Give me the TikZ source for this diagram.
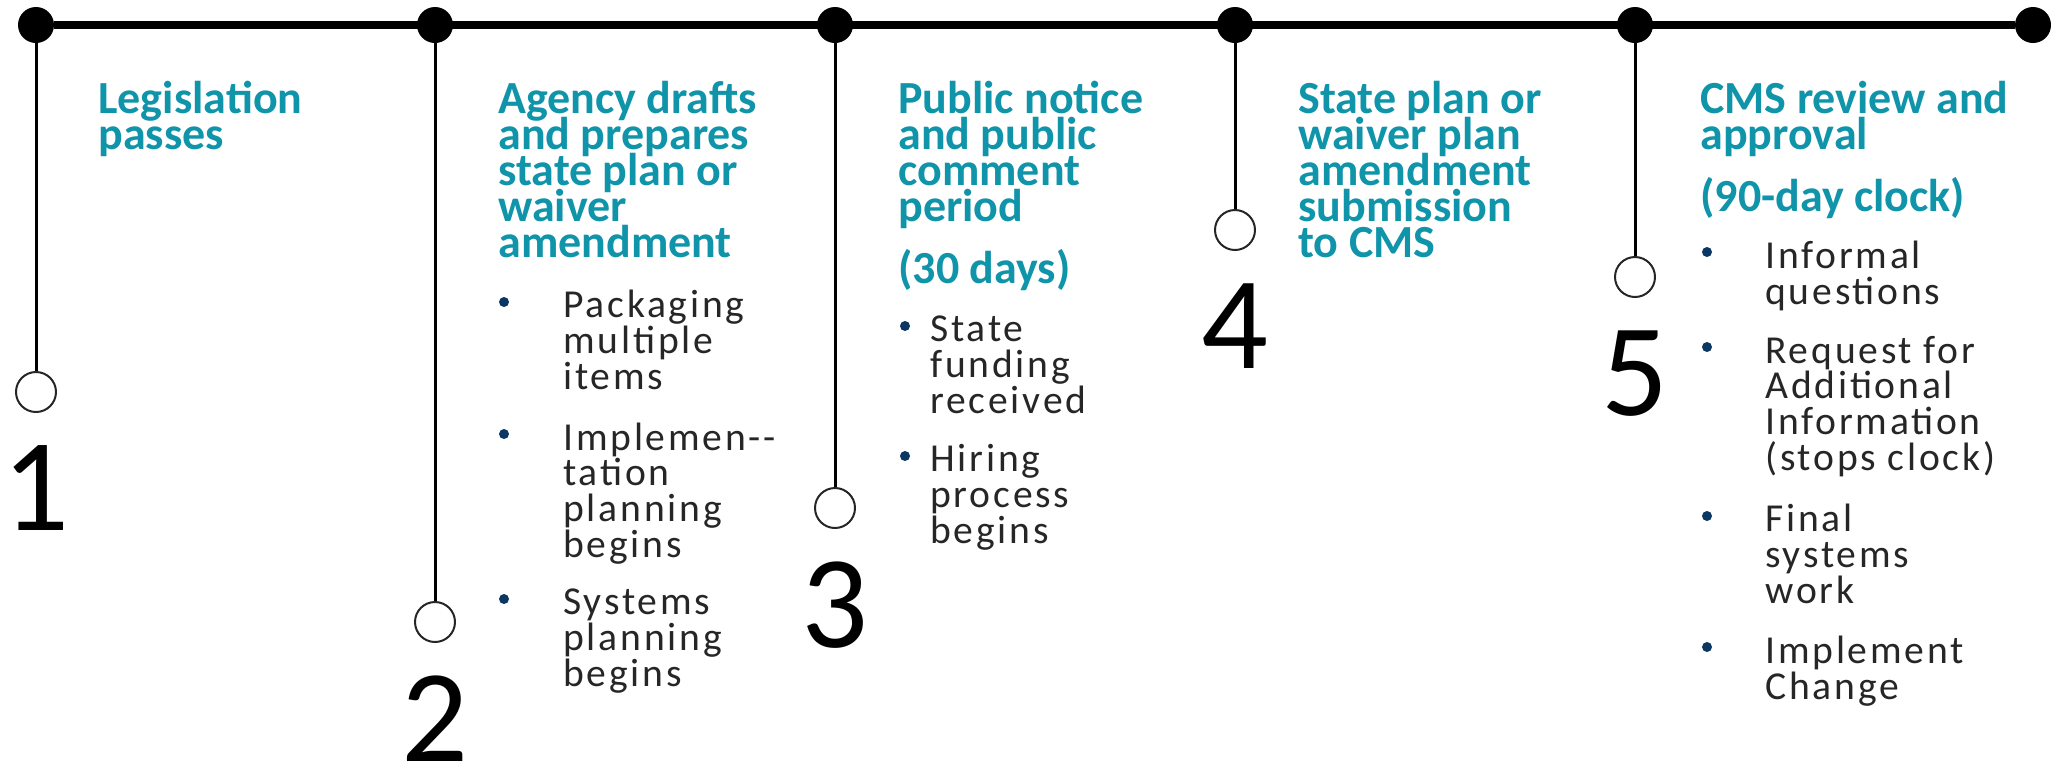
\documentclass[tikz,border=0pt]{standalone}
\usepackage{fontspec}
\setmainfont{Carlito}
\newfontfamily\bodyfont{Carlito}[LetterSpace=7]
\usetikzlibrary{positioning}
\definecolor{headteal}{RGB}{16,148,170}
\definecolor{dotnavy}{RGB}{10,55,100}

\begin{document}
\begin{tikzpicture}[x=0.5pt, y=-0.5pt,
every node/.style = {inner sep=0pt},
  bigdot/.style = {circle, fill=black, minimum size=18pt},
  opendot/.style = {circle, draw=black!85, line width=1pt, fill=white, minimum size=20pt},
  stepnum/.style = {font={\fontsize{66}{66}\selectfont}, below=16pt of #1},
  % anchors sit on the last line of each block
  head/.style = {anchor=base west, align=left, text=headteal,
    font={\bfseries\fontsize{23}{18}\selectfont\lineskiplimit=-20pt}},
  body/.style = {anchor=base west, align=left, text=black!85,
    font={\bodyfont\fontsize{19.8}{17.8}\selectfont\lineskiplimit=-20pt}},
  bullet/.style = {circle, fill=dotnavy, minimum size=5pt}
]
\useasboundingbox (0,0) rectangle (2051,762);

% timeline
\foreach \x [count=\i] in {36,435,835,1235,1635,2033}
    \node[bigdot] (d\i) at (\x,25) {};
\draw[line width=4pt] (d1) -- (d6);

\node[opendot] (c1) at (36,392) {};
\node[opendot] (c2) at (435,622) {};
\node[opendot] (c3) at (835,508) {};
\node[opendot] (c4) at (1235,230) {};
\node[opendot] (c5) at (1635,277) {};
\foreach \i in {1,...,5}
    \draw[line width=1.5pt] (d\i) -- (c\i);

\node[stepnum=c1] (n1) {1};
\node[stepnum=c2] (n2) {2};
\node[stepnum=c3] (n3) {3};
\node[stepnum=c4] (n4) {4};
\node[stepnum=c5] (n5) {5};

% headings
\node[head] (h1) at (98,149) {Legislation\\passes};
\node[head] (h2) at (498,257) {Agency drafts\\and prepares\\state plan or\\waiver\\amendment};
\node[head] (h3) at (898,283) {Public notice\\and public\\comment\\period\\[13pt](30 days)};
\node[head] (h4) at (1298,257) {State plan or\\waiver plan\\amendment\\submission\\to CMS};
\node[head] (h5) at (1700,211) {CMS review and\\approval\\[13pt](90-day clock)};

% step 2 items
\node[body] (i2a) at (563,389) {Packaging\\multiple\\items};
\node[body] (i2b) at (563,557) {Implemen-{}-\\tation\\planning\\begins};
\node[body] (i2c) at (563,686) {Systems\\planning\\begins};
\node[bullet] (b2a) at (504,302) {};
\node[bullet] (b2b) at (504,434) {};
\node[bullet] (b2c) at (504,599) {};

% step 3 items
\node[body] (i3a) at (930,413) {State\\funding\\received};
\node[body] (i3b) at (930,543) {Hiring\\process\\begins};
\node[bullet] (b3a) at (905,326) {};
\node[bullet] (b3b) at (905,456) {};

% step 5 items
\node[body] (i5a) at (1765,304) {Informal\\questions};
\node[body] (i5b) at (1765,470) {Request for\\Additional\\Information\\(stops clock)};
\node[body] (i5c) at (1765,603) {Final\\systems\\work};
\node[body] (i5d) at (1765,699) {Implement\\Change};
\node[bullet] (b5a) at (1707,252) {};
\node[bullet] (b5b) at (1707,347) {};
\node[bullet] (b5c) at (1707,516) {};
\node[bullet] (b5d) at (1707,647) {};

\end{tikzpicture}
\end{document}
